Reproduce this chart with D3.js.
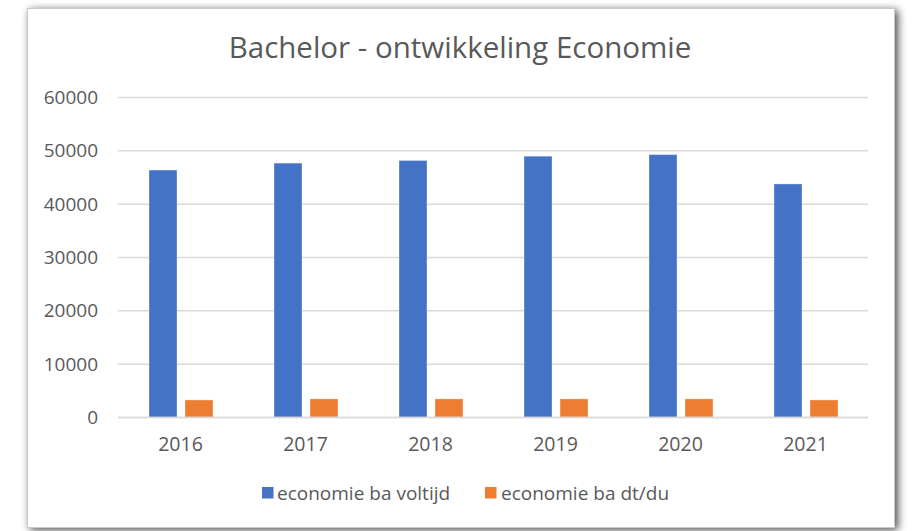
<!DOCTYPE html>
<html><head><meta charset="utf-8">
<script src="https://cdn.jsdelivr.net/npm/d3@7"></script>
<style>html,body{margin:0;padding:0;background:#fff;}svg{display:block;}</style>
</head><body>
<script>
const categories = ["2016","2017","2018","2019","2020","2021"];
const seriesNames = ["economie ba voltijd","economie ba dt/du"];
const voltijd = [46300, 47600, 48100, 48900, 49200, 43700];
const dtdu = [3200, 3400, 3400, 3400, 3400, 3200];
const yTicks = [0,10000,20000,30000,40000,50000,60000];
const colors = ["#4472C4","#ED7D31"];

const W = 912, H = 531;
const svg = d3.select("body").append("svg").attr("width", W).attr("height", H);
const defs = svg.append("defs");
const f = defs.append("filter").attr("id","sh").attr("x","-5%").attr("y","-5%").attr("width","110%").attr("height","110%");
f.append("feDropShadow").attr("dx",3).attr("dy",2).attr("stdDeviation",4).attr("flood-color","#000").attr("flood-opacity",0.7);

svg.append("rect").attr("x",27.5).attr("y",8.5).attr("width",867).attr("height",519)
  .attr("fill","#fff").attr("stroke","#c8c8c8").attr("stroke-width",1).attr("filter","url(#sh)");

const font = "'Open Sans', sans-serif";
const m = {left:118, right:868, top:97, bottom:417};
const x0 = d3.scaleBand().domain(categories).range([m.left, m.right]).padding(0);
const x1 = d3.scaleBand().domain(seriesNames).range([31, 95]).paddingInner(0.222).paddingOuter(0);
const y = d3.scaleLinear().domain([0,60000]).range([m.bottom, m.top]);

// gridlines
const yAxis = d3.axisLeft(y).tickValues(yTicks).tickSize(-(m.right-m.left)).tickPadding(20).tickFormat(d3.format("d"));
const ga = svg.append("g").attr("transform",`translate(${m.left},0)`).call(yAxis);
ga.select(".domain").remove();
ga.selectAll(".tick line").attr("stroke","#d9d9d9").attr("stroke-width",1.5);
ga.selectAll(".tick text").attr("fill","#595959").style("font-family",font).style("font-size","19px").attr("dy","0.35em");

// bars
const data = categories.map((c,i)=>({cat:c, vals:[voltijd[i], dtdu[i]]}));
const groups = svg.append("g").selectAll("g").data(data).join("g")
  .attr("transform", d=>`translate(${x0(d.cat)},0)`);
groups.selectAll("rect").data(d=>d.vals.map((v,j)=>({name:seriesNames[j], v, j}))).join("rect")
  .attr("x", d=>x1(d.name)).attr("width", x1.bandwidth())
  .attr("y", d=>y(d.v)).attr("height", d=>y(0)-y(d.v))
  .attr("fill", d=>colors[d.j]).attr("stroke","#fff").attr("stroke-opacity",0.35).attr("stroke-width",1);

// x axis
const xAxis = d3.axisBottom(x0).tickSize(0).tickPadding(20);
const gx = svg.append("g").attr("transform",`translate(0,${m.bottom})`).call(xAxis);
gx.select(".domain").attr("stroke","#d9d9d9").attr("stroke-width",1.5);
gx.selectAll(".tick text").attr("fill","#595959").style("font-family",font).style("font-size","19.5px");

// title
svg.append("text").attr("x",460).attr("y",58).attr("text-anchor","middle")
  .attr("fill","#595959").style("font-family",font).style("font-size","29.5px")
  .text("Bachelor - ontwikkeling Economie");

// legend
const leg = [{x:262, tx:277},{x:485, tx:501}];
seriesNames.forEach((s,i)=>{
  svg.append("rect").attr("x",leg[i].x).attr("y",487).attr("width",11.5).attr("height",11.5).attr("fill",colors[i]);
  svg.append("text").attr("x",leg[i].tx).attr("y",493).attr("dy","0.35em").attr("fill","#595959")
    .style("font-family",font).style("font-size","19px").text(s);
});
</script>
</body></html>
